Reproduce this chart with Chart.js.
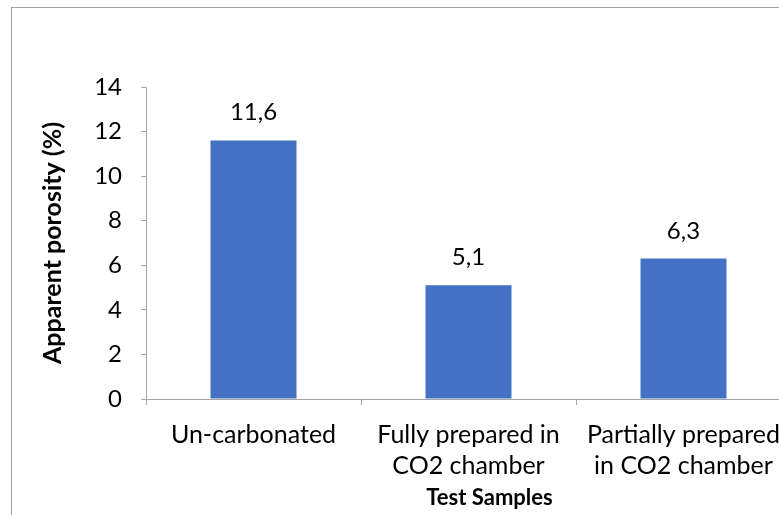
<!DOCTYPE html>
<html>
<head>
<meta charset="utf-8">
<script src="https://cdn.jsdelivr.net/npm/chart.js@4/dist/chart.umd.min.js"></script>
<style>
  html, body { margin: 0; padding: 0; background: #fff; overflow: hidden; }
  #wrap { position: absolute; left: 0; top: 0; width: 810px; height: 515px; }
</style>
</head>
<body>
<div id="wrap"><canvas id="c" width="810" height="515"></canvas></div>
<script>
const categories = [["Un-carbonated"], ["Fully prepared in", "CO2 chamber"], ["Partially prepared", "in CO2 chamber"]];
const porosity = [11.6, 5.1, 6.3];
const valueLabels = ["11,6", "5,1", "6,3"];
const yTicks = [0, 2, 4, 6, 8, 10, 12, 14];
const yTitle = "Apparent porosity (%)";
const xTitle = "Test Samples";

const FONT = "Lato, 'Open Sans', sans-serif";
const AXIS = '#a6a6a6';

const framePlugin = {
  id: 'frame',
  beforeDraw(chart) {
    const ctx = chart.ctx;
    ctx.save();
    ctx.fillStyle = '#fff';
    ctx.fillRect(0, 0, chart.width, chart.height);
    ctx.strokeStyle = '#a0a0a0';
    ctx.lineWidth = 1;
    ctx.strokeRect(11.5, 7.5, 1000, 1000);
    ctx.restore();
  }
};

const labelPlugin = {
  id: 'valueLabels',
  afterDatasetsDraw(chart) {
    const ctx = chart.ctx;
    const meta = chart.getDatasetMeta(0);
    ctx.save();
    ctx.font = "24px " + FONT;
    ctx.fillStyle = '#000';
    ctx.textAlign = 'center';
    ctx.textBaseline = 'alphabetic';
    meta.data.forEach((bar, i) => {
      ctx.fillText(valueLabels[i], bar.x, bar.y - 20);
    });
    // x-axis title (Excel centres it on the whole chart, not the plot area)
    ctx.font = "bold 22px " + FONT;
    ctx.textBaseline = 'middle';
    const xs = chart.scales.x;
    ctx.fillText(xTitle, (xs.left + xs.right) / 2 + 21, xs.bottom - 17);
    ctx.restore();
  }
};

new Chart(document.getElementById('c'), {
  type: 'bar',
  data: {
    labels: categories,
    datasets: [{
      data: porosity,
      backgroundColor: '#4472c4',
      borderWidth: 0,
      categoryPercentage: 1.0,
      barPercentage: 0.4
    }]
  },
  options: {
    responsive: false,
    animation: false,
    devicePixelRatio: 1,
    layout: { padding: { top: 87, left: 0, right: 19, bottom: 0 } },
    plugins: { legend: { display: false }, tooltip: { enabled: false } },
    scales: {
      x: {
        grid: { display: true, drawOnChartArea: false, drawTicks: true, tickLength: 6, color: AXIS, offset: true },
        border: { display: true, color: AXIS, width: 1 },
        ticks: { color: '#000', font: { family: FONT, size: 25, lineHeight: 1.25 }, padding: 14, maxRotation: 0, autoSkip: false },
        title: { display: false },
        afterFit(scale) { scale.height = 116; }
      },
      y: {
        min: 0, max: 14,
        afterBuildTicks(scale) { scale.ticks = yTicks.map(v => ({ value: v })); },
        grid: { display: true, drawOnChartArea: false, drawTicks: true, tickLength: 5, color: AXIS },
        border: { display: true, color: AXIS, width: 1 },
        ticks: { color: '#000', font: { family: FONT, size: 24 }, padding: 19 },
        title: { display: true, text: yTitle, color: '#000', font: { family: FONT, size: 25, weight: 'bold', lineHeight: 1.2 }, padding: { top: 38, bottom: 0 } },
        afterFit(scale) { scale.width = 146; }
      }
    }
  },
  plugins: [framePlugin, labelPlugin]
});
</script>
</body>
</html>
